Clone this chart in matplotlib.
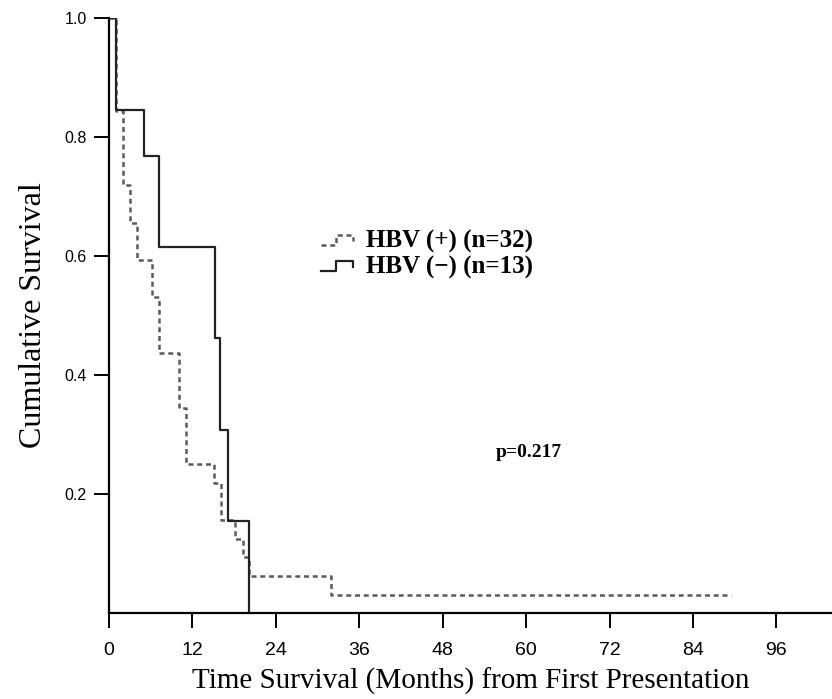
import matplotlib
matplotlib.use("Agg")
import matplotlib.pyplot as plt
from matplotlib.lines import Line2D
from matplotlib.legend_handler import HandlerBase

# --- Podatki (odčitani s slike) ---
cas_pos = [0, 1.0, 2.0, 3.0, 4.0, 6.2, 7.2, 10.1, 11.1, 15.1, 16.1, 18.1, 19.3, 20.1, 32.0, 89.5]
prez_pos = [1.0, 0.844, 0.719, 0.656, 0.594, 0.531, 0.4375, 0.344, 0.25, 0.219, 0.156, 0.125, 0.094, 0.0625, 0.031, 0.031]

cas_neg = [0, 1.0, 5.0, 7.2, 15.2, 16.0, 17.1, 20.1]
prez_neg = [1.0, 0.846, 0.769, 0.615, 0.462, 0.308, 0.154, 0.0]

oznake = ["HBV (+) (n=32)", "HBV (\u2212) (n=13)"]
x_ticks = [0, 12, 24, 36, 48, 60, 72, 84, 96]
y_ticks = [0.2, 0.4, 0.6, 0.8, 1.0]
p_tekst = "p=0.217"


# legenda s stopničastim simbolom
class StepHandler(HandlerBase):
    def create_artists(self, legend, orig_handle, xdescent, ydescent,
                       width, height, fontsize, trans):
        w, h = width, height
        xs = [-xdescent, 0.45 * w, 0.45 * w, w, w]
        ys = [0.15 * h, 0.15 * h, 0.75 * h, 0.75 * h, 0.4 * h]
        ln = Line2D(xs, ys, color=orig_handle.get_color(),
                    linestyle=orig_handle.get_linestyle(),
                    linewidth=orig_handle.get_linewidth(), transform=trans)
        if orig_handle.get_linestyle() in ("--", "dashed"):
            ln.set_dashes((2, 1.5))
        return [ln]


fig = plt.figure(figsize=(8.32, 6.99), dpi=100)
ax = fig.add_axes([0.131, 0.123, 0.869, 0.851])

l1, = ax.step(cas_pos, prez_pos, where="post", color="#5a5a5a",
              linewidth=1.8, linestyle="--", dashes=(2, 1.5))
l2, = ax.step(cas_neg, prez_neg, where="post", color="#222222", linewidth=1.6)

ax.set_xlim(0, 104)
ax.set_ylim(0, 1.0)
ax.set_xticks(x_ticks)
ax.set_yticks(y_ticks)
ax.set_yticklabels([f"{v:.1f}" for v in y_ticks])

for s in ["top", "right"]:
    ax.spines[s].set_visible(False)
for s in ["left", "bottom"]:
    ax.spines[s].set_linewidth(1.6)
    ax.spines[s].set_clip_on(False)

ax.tick_params(axis="y", direction="out", length=11, width=1.4,
               labelsize=11.5, pad=5)
ax.tick_params(axis="x", direction="out", length=11, width=1.4,
               labelsize=14, pad=10)
for lab in ax.get_xticklabels() + ax.get_yticklabels():
    lab.set_family("Liberation Sans")

ax.set_xlabel("Time Survival (Months) from First Presentation",
              family="Liberation Serif", fontsize=21, labelpad=6)
ax.set_ylabel("Cumulative Survival", family="Liberation Serif",
              fontsize=23, labelpad=12)

ax.text(55.7, 0.27, p_tekst, family="Liberation Serif", fontsize=14,
        fontweight="bold", va="center")

leg = ax.legend([l1, l2], oznake, handler_map={Line2D: StepHandler()},
                loc="upper left", bbox_to_anchor=(0.262, 0.682), frameon=False,
                prop={"family": "Liberation Serif", "size": 18, "weight": "bold"},
                handlelength=1.3, handletextpad=0.5, labelspacing=0.1)

fig.savefig("out.png", dpi=100)
